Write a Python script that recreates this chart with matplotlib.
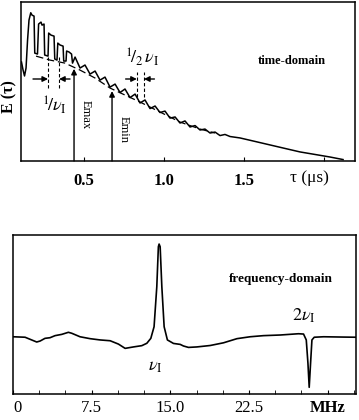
import matplotlib
matplotlib.use("Agg")
from matplotlib import pyplot as plt

# time-domain trace E(tau) (tau in us, E arbitrary units)
tau = [0.109, 0.119, 0.128, 0.1375, 0.147, 0.156, 0.167, 0.175, 0.1875, 0.192,
       0.209, 0.216, 0.231, 0.2375, 0.25, 0.254, 0.275, 0.279, 0.294, 0.3125,
       0.317, 0.331, 0.336, 0.35, 0.369, 0.373, 0.3875, 0.391, 0.406, 0.422,
       0.428, 0.444, 0.475, 0.506, 0.5375, 0.569, 0.6, 0.631, 0.6625, 0.694,
       0.725, 0.756, 0.7875, 0.819, 0.85, 0.881, 0.9125, 0.944, 0.975, 1.006,
       1.0375, 1.069, 1.1, 1.131, 1.1625, 1.194, 1.225, 1.256, 1.2875, 1.319,
       1.35, 1.381, 1.4125, 1.475, 1.569, 1.6625, 1.756, 1.85, 1.944, 2.0375,
       2.119]
energy = [0.623, 0.572, 0.535, 0.585, 0.761, 0.887, 0.933, 0.918, 0.912, 0.679,
          0.673, 0.862, 0.874, 0.855, 0.862, 0.667, 0.660, 0.805, 0.792, 0.786,
          0.642, 0.635, 0.742, 0.730, 0.723, 0.629, 0.629, 0.692, 0.686, 0.673,
          0.616, 0.654, 0.585, 0.604, 0.547, 0.566, 0.509, 0.528, 0.465, 0.484,
          0.431, 0.453, 0.399, 0.421, 0.365, 0.384, 0.330, 0.346, 0.305, 0.314,
          0.270, 0.277, 0.239, 0.252, 0.214, 0.223, 0.195, 0.201, 0.176, 0.182,
          0.160, 0.167, 0.154, 0.145, 0.123, 0.101, 0.079, 0.057, 0.041, 0.025,
          0.009]

# smooth (dashed) baseline
tau_base = [0.2, 0.2875, 0.381, 0.475, 0.569, 0.6625, 0.756, 0.85, 0.975, 1.1, 1.225, 1.319]
e_base = [0.660, 0.635, 0.616, 0.572, 0.522, 0.459, 0.415, 0.371, 0.308, 0.245, 0.201, 0.176]

tau_emax, e_emax = 0.4375, 0.58
tau_emin, e_emin = 0.675, 0.44
period_marks = [0.275, 0.344]
half_period_marks = [0.83, 0.875]

# frequency-domain spectrum (MHz, arbitrary units)
freq = [0.0, 1.15, 1.78, 2.26, 2.58, 3.05, 3.53, 4.01, 4.65, 5.28,
        5.60, 6.39, 7.35, 8.30, 9.26, 10.05, 10.69, 11.48, 12.28, 12.76,
        13.14, 13.45, 13.71, 13.86, 13.93, 14.03, 14.19, 14.41, 14.72, 15.30,
        15.94, 16.25, 16.73, 17.53, 18.80, 20.07, 21.35, 22.61, 23.88, 25.48,
        27.22, 27.70, 27.96, 28.12, 28.24, 28.37, 28.50, 28.72, 29.61, 31.52,
        32.70]
amp = [0.360, 0.357, 0.340, 0.327, 0.333, 0.350, 0.354, 0.367, 0.375, 0.388,
       0.382, 0.360, 0.348, 0.340, 0.335, 0.314, 0.287, 0.296, 0.304, 0.319,
       0.350, 0.423, 0.675, 0.926, 0.943, 0.926, 0.675, 0.423, 0.340, 0.318,
       0.312, 0.302, 0.293, 0.296, 0.305, 0.322, 0.348, 0.360, 0.367, 0.371,
       0.379, 0.377, 0.340, 0.193, 0.042, 0.193, 0.340, 0.357, 0.360, 0.358,
       0.357]

time_ticks = [0.5, 1.0, 1.5, 2.0]
time_labels = ["0.5", "1.0", "1.5", ""]
freq_ticks = [0, 7.5, 15.0, 22.5, 30.0]
freq_labels = ["0", "7.5", "15.0", "22.5", "MHz"]
freq_minor = [2.5, 5.0, 10.0, 12.5, 17.5, 20.0, 25.0, 27.5, 32.5]


def main():
    plt.rcParams["font.family"] = ["Liberation Serif", "DejaVu Serif"]
    plt.rcParams["mathtext.fontset"] = "stix"
    plt.rcParams["axes.linewidth"] = 1.1

    fig = plt.figure(figsize=(3.59, 4.2), dpi=100)
    ax1 = fig.add_axes([0.0585, 0.6167, 0.9305, 0.3783])
    ax2 = fig.add_axes([0.0362, 0.0619, 0.9554, 0.3786])

    # --- time domain ---
    ax1.plot(tau, energy, color="k", lw=1.1)
    ax1.plot(tau_base, e_base, color="k", lw=0.9, ls=(0, (6, 3)))
    ax1.set_xlim(0.106, 2.194)
    ax1.set_ylim(0, 1.0)
    ax1.set_yticks([])
    ax1.set_xticks(time_ticks)
    ax1.set_xticklabels(time_labels, fontsize=12, fontweight="bold")
    ax1.tick_params(axis="x", direction="in", length=3, pad=9)
    ax1.text(1.91, -0.107, "τ (μs)", transform=ax1.get_xaxis_transform(),
             ha="center", va="center", fontsize=12.5)
    fig.text(9.5 / 359, 1 - 97 / 420, "E (τ)", rotation=90, ha="center",
             va="center", fontsize=11.5, fontweight="bold")

    arrow = dict(arrowstyle="-|>", color="k", lw=1.0, mutation_scale=8, shrinkA=0, shrinkB=0)
    ax1.annotate("", xy=(tau_emax, e_emax), xytext=(tau_emax, 0.0), arrowprops=arrow)
    ax1.annotate("", xy=(tau_emin, e_emin), xytext=(tau_emin, 0.0), arrowprops=arrow)
    ax1.text(tau_emax + 0.07, 0.29, "Emax", rotation=-90, ha="center", va="center", fontsize=9)
    ax1.text(tau_emin + 0.075, 0.20, "Emin", rotation=-90, ha="center", va="center", fontsize=9)

    for x in period_marks:
        ax1.plot([x, x], [0.459, 0.654], color="k", lw=0.8, ls=(0, (3, 2)))
    ax1.annotate("", xy=(period_marks[0], 0.516), xytext=(0.181, 0.516), arrowprops=arrow)
    ax1.annotate("", xy=(period_marks[1], 0.516), xytext=(0.4125, 0.516), arrowprops=arrow)
    ax1.text(0.3125, 0.35, r"$^1\!/\nu_{\rm I}$", ha="center", va="center", fontsize=13)

    for x in half_period_marks:
        ax1.plot([x, x], [0.40, 0.56], color="k", lw=0.8, ls=(0, (3, 2)))
    ax1.annotate("", xy=(half_period_marks[0], 0.516), xytext=(0.76, 0.516), arrowprops=arrow)
    ax1.annotate("", xy=(half_period_marks[1], 0.516), xytext=(0.94, 0.516), arrowprops=arrow)
    ax1.text(0.86, 0.65, r"$^1\!/_2\,\nu_{\rm I}$", ha="center", va="center", fontsize=13)

    ax1.text(1.8, 0.629, "time-domain", ha="center", va="center", fontsize=9,
             fontweight="bold")

    # --- frequency domain ---
    ax2.plot(freq, amp, color="k", lw=1.2)
    ax2.set_xlim(0, 32.7)
    ax2.set_ylim(0, 1.0)
    ax2.set_yticks([])
    ax2.set_xticks(freq_ticks)
    ax2.set_xticks(freq_minor, minor=True)
    ax2.set_xticklabels(freq_labels, fontsize=12)
    ax2.get_xticklabels()[-1].set_fontweight("bold")
    ax2.get_xticklabels()[0].set_horizontalalignment("left")
    ax2.tick_params(axis="x", which="both", direction="in", length=3, pad=4)

    ax2.text(13.55, 0.17, r"$\nu_{\rm I}$", ha="center", va="center", fontsize=13)
    ax2.text(27.67, 0.49, r"$2\nu_{\rm I}$", ha="center", va="center", fontsize=13)
    ax2.text(25.57, 0.723, "frequency-domain", ha="center", va="center",
             fontsize=9.5, fontweight="bold")

    fig.savefig("out.png", dpi=100)


if __name__ == "__main__":
    main()
